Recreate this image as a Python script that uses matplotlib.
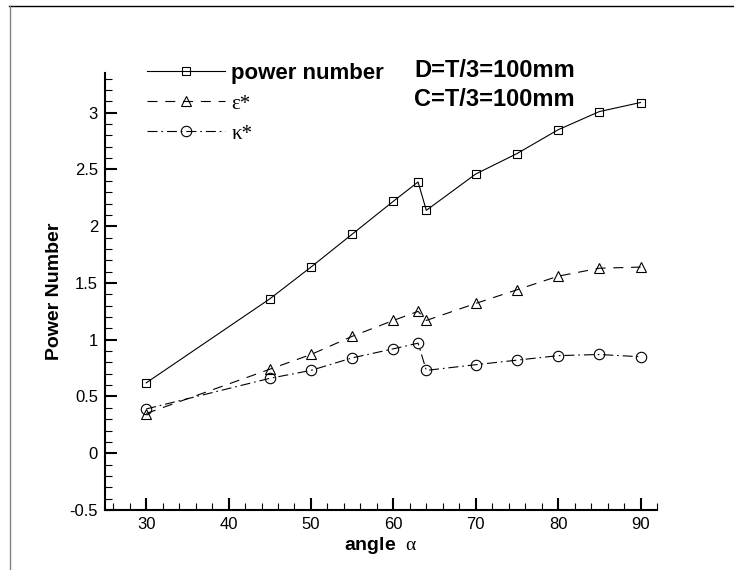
import matplotlib
matplotlib.use('Agg')
import matplotlib.pyplot as plt
from matplotlib.lines import Line2D
from matplotlib.ticker import MultipleLocator, FuncFormatter

plt.rcParams['font.family'] = ['Liberation Sans', 'DejaVu Sans']
plt.rcParams['axes.unicode_minus'] = False
plt.rcParams['mathtext.fontset'] = 'custom'
plt.rcParams['mathtext.rm'] = 'Liberation Serif'
plt.rcParams['mathtext.it'] = 'Liberation Serif'

# angle values and the three curves
angle = [30, 45, 50, 55, 60, 63, 64, 70, 75, 80, 85, 90]
power_number = [0.62, 1.36, 1.64, 1.93, 2.22, 2.39, 2.14, 2.46, 2.64, 2.85, 3.01, 3.09]
eps_star = [0.35, 0.74, 0.87, 1.03, 1.17, 1.25, 1.17, 1.32, 1.44, 1.56, 1.63, 1.64]
kappa_star = [0.39, 0.66, 0.73, 0.84, 0.92, 0.97, 0.73, 0.78, 0.82, 0.86, 0.87, 0.85]

labels = ['power number', 'ε*', 'κ*']
notes = ['D=T/3=100mm', 'C=T/3=100mm']

W, H = 734, 570
fig = plt.figure(figsize=(W / 100, H / 100), dpi=100)

# thin frame lines at the top and left of the picture
fig.add_artist(Line2D([9 / W, 1], [1 - 6 / H, 1 - 6 / H], color='black', lw=1))
fig.add_artist(Line2D([9.5 / W, 9.5 / W], [0, 1 - 6 / H], color='#808080', lw=1))

ax = fig.add_axes([105 / W, 60 / H, (657 - 105) / W, (510 - 73) / H])

lw = 0.8
ax.plot(angle, power_number, color='black', lw=lw, ls='-', marker='s', ms=6,
        mfc='none', mec='black', mew=0.8, label=labels[0])
ax.plot(angle, eps_star, color='black', lw=lw, dashes=(9, 7), marker='^', ms=7.5,
        mfc='none', mec='black', mew=0.8, label=labels[1])
ax.plot(angle, kappa_star, color='black', lw=lw, dashes=(9, 3.5, 1.5, 3.5), marker='o', ms=7.5,
        mfc='none', mec='black', mew=0.8, label=labels[2])

ax.set_xlim(25, 92)
ax.set_ylim(-0.5, 3.35)

ax.xaxis.set_major_locator(MultipleLocator(10))
ax.xaxis.set_minor_locator(MultipleLocator(2))
ax.yaxis.set_major_locator(MultipleLocator(0.5))
ax.yaxis.set_minor_locator(MultipleLocator(0.1))
ax.yaxis.set_major_formatter(FuncFormatter(lambda v, p: '%g' % v))

for s in ['top', 'right']:
    ax.spines[s].set_visible(False)
for s in ['left', 'bottom']:
    ax.spines[s].set_linewidth(1.5)

ax.tick_params(which='major', direction='in', length=8.5, width=1.5, labelsize=12, pad=5)
ax.tick_params(which='minor', direction='in', length=5, width=0.8)

ax.set_xlabel(r'angle  $\mathrm{\alpha}$', fontsize=14, fontweight='bold', labelpad=2)
ax.set_ylabel('Power Number', fontsize=14, fontweight='bold', labelpad=5)

leg = ax.legend(loc='upper left', bbox_to_anchor=(147 / W, 1 - 63 / H),
                bbox_transform=fig.transFigure, frameon=False, fontsize=16,
                handlelength=3.5, handletextpad=0.3, labelspacing=0.42,
                borderpad=0, borderaxespad=0)
texts = leg.get_texts()
texts[0].set_fontweight('bold')
for t in texts[1:]:
    t.set_family('Liberation Serif')
    t.set_fontsize(15)

fig.text(414 / W, 1 - 71 / H, notes[0], fontsize=17, fontweight='bold', va='center')
fig.text(414 / W, 1 - 100 / H, notes[1], fontsize=17, fontweight='bold', va='center')

fig.savefig('out.png', dpi=100)
